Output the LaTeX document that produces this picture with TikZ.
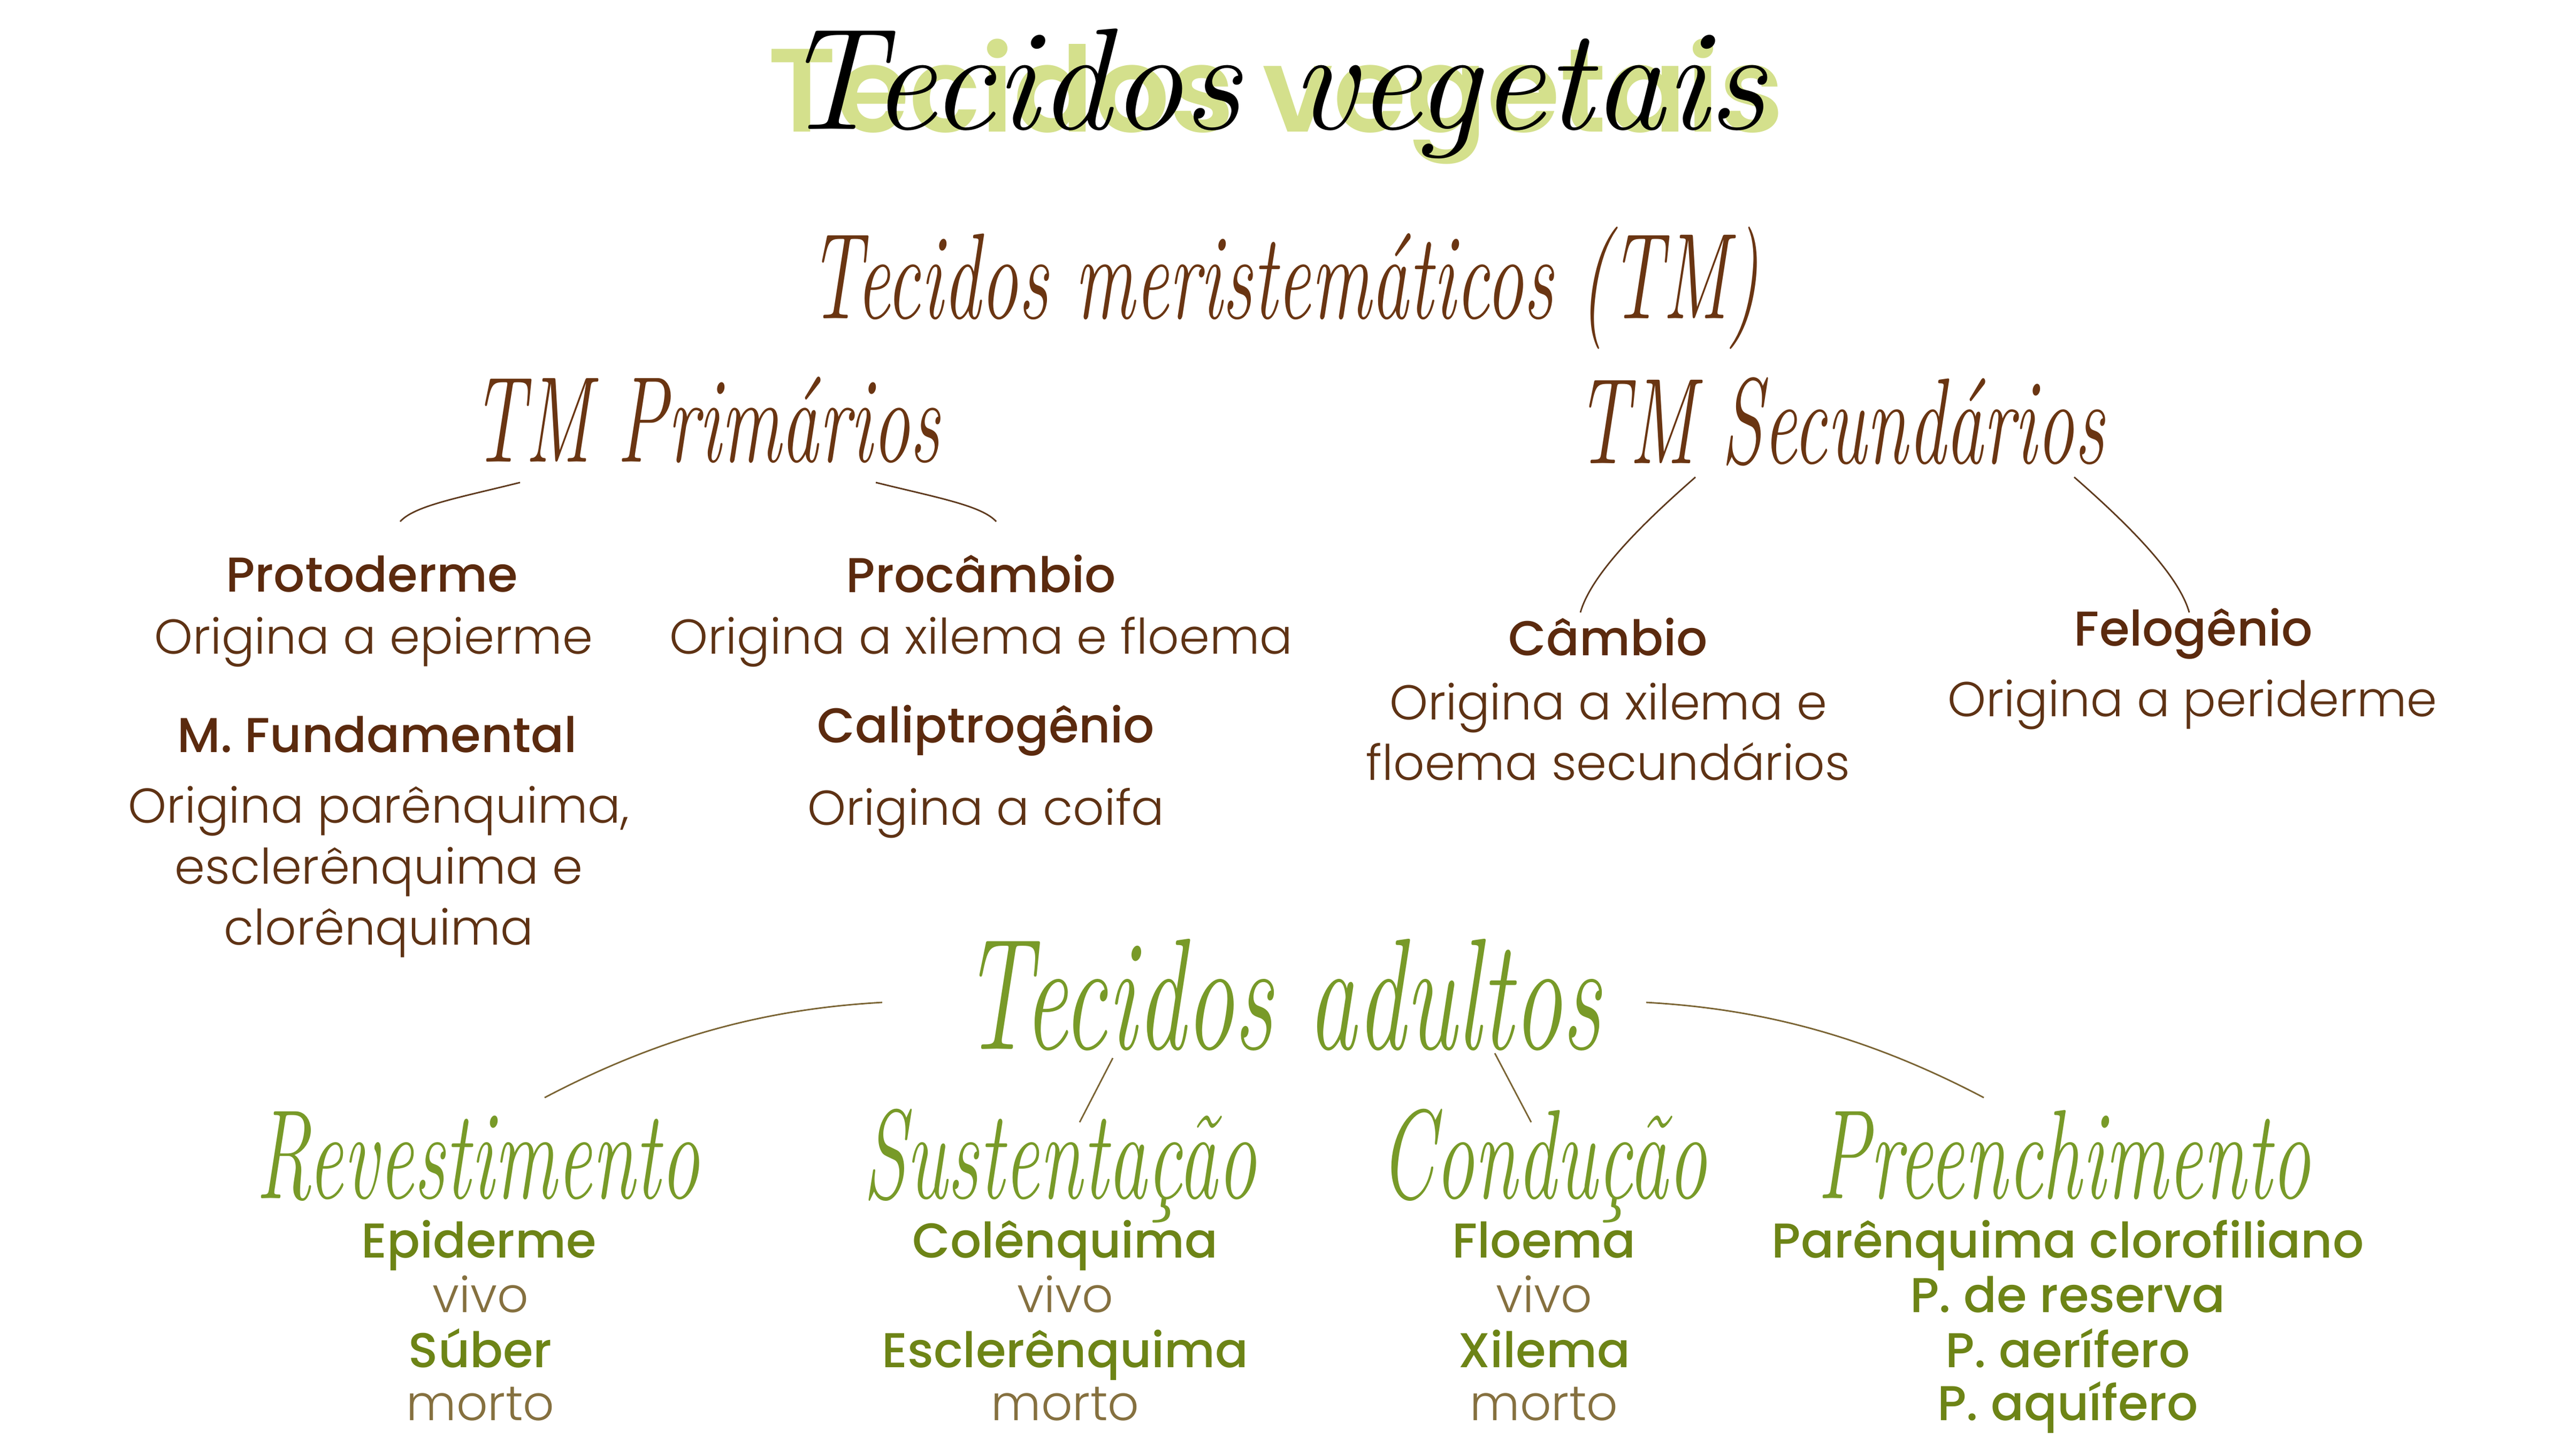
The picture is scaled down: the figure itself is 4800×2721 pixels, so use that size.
\documentclass[tikz,border=0pt]{standalone}
\usepackage{graphicx}
\usepackage{fontspec}
\setmainfont{Poppins}
\newfontfamily\lightf{Poppins Light}
\newfontfamily\medf{Poppins Medium}
\newfontfamily\semif{Poppins SemiBold}
\newfontfamily\lmfam{Latin Modern Roman}
\definecolor{brownD}{HTML}{5B2A0E}
\definecolor{brownB}{HTML}{5E3214}
\definecolor{brownS}{HTML}{6A3512}
\definecolor{greenH}{HTML}{6D8416}
\definecolor{greenS}{HTML}{789A28}
\definecolor{vivoC}{HTML}{85703F}
\definecolor{titleG}{HTML}{D4E08C}
\definecolor{lineB}{HTML}{5E3A1E}
\definecolor{lineG}{HTML}{7A6434}
\tikzset{
  hd/.style={font=\medf\fontsize{26}{31}\selectfont, text=brownD, inner sep=0pt},
  bd/.style={font=\lightf\fontsize{26}{32.4}\selectfont, text=brownB, align=center, inner sep=0pt},
  ghd/.style={font=\medf\fontsize{26}{31}\selectfont, text=greenH, inner sep=0pt, anchor=base},
  gbd/.style={font=\lightf\fontsize{26}{31}\selectfont, text=vivoC, inner sep=0pt, anchor=base},
  scrfont/.style={font=\lmfam\itshape\fontsize{#1}{#1}\selectfont, inner sep=0pt},
  conn/.style={draw=lineB, line width=0.8pt},
  conng/.style={draw=lineG, line width=0.8pt},
}
\newcommand{\tallscr}[1]{\scalebox{0.8}[1.3]{#1}}
\begin{document}
\begin{tikzpicture}[x=0.01cm,y=-0.01cm]
\useasboundingbox (0,0) rectangle (4800,2721);
\fill[white] (0,0) rectangle (4800,2721);

% title
\node[font=\semif\fontsize{63}{63}\selectfont, text=titleG, inner sep=0pt] (tg) at (2385,190) {Tecidos vegetais};
\node[scrfont=77, text=black] (tb) at (2380,175) {Tecidos vegetais};

% meristematic
\node[scrfont=50, text=brownS] (tm) at (2400,538) {\tallscr{Tecidos meristemáticos (TM)}};
\node[scrfont=50, text=brownS] (tmp) at (1320,785) {\tallscr{TM Primários}};
\node[scrfont=50, text=brownS] (tms) at (3440,788) {\tallscr{TM Secundários}};

\coordinate (p1a) at (972,902);  \coordinate (p1b) at (748,975);
\coordinate (p2a) at (1637,902); \coordinate (p2b) at (1862,975);
\coordinate (s1a) at (3169,892); \coordinate (s1b) at (2954,1145);
\coordinate (s2a) at (3877,892); \coordinate (s2b) at (4092,1145);
\draw[conn] (p1a) .. controls (860,930) and (775,945) .. (p1b);
\draw[conn] (p2a) .. controls (1750,930) and (1835,945) .. (p2b);
\draw[conn] (s1a) .. controls (3080,970) and (2975,1070) .. (s1b);
\draw[conn] (s2a) .. controls (3966,970) and (4071,1070) .. (s2b);

\node[hd] (proto) at (695,1073) {Protoderme};
\node[bd] (protob) at (698,1200) {Origina a epierme};
\node[hd] (proc) at (1834,1073) {Procâmbio};
\node[bd] (procb) at (1834,1200) {Origina a xilema e floema};
\node[hd] (mf) at (705,1373) {M. Fundamental};
\node[bd] (mfb) at (708,1630) {Origina parênquima,\\esclerênquima e\\clorênquima};
\node[hd] (cal) at (1843,1366) {Caliptrogênio};
\node[bd] (calb) at (1843,1520) {Origina a coifa};
\node[hd] (cam) at (3006,1191) {Câmbio};
\node[bd] (camb) at (3006,1368) {Origina a xilema e\\floema secundários};
\node[hd] (fel) at (4100,1185) {Felogênio};
\node[bd] (felb) at (4098,1317) {Origina a periderme};

% adult
\node[scrfont=65, text=greenS] (ad) at (2396,1860) {\tallscr{Tecidos adultos}};
\coordinate (a1a) at (1649,1874); \coordinate (a1b) at (1018,2052);
\coordinate (a2a) at (2080,1978); \coordinate (a2b) at (2018,2098);
\coordinate (a3a) at (2794,1969); \coordinate (a3b) at (2862,2098);
\coordinate (a4a) at (3077,1874); \coordinate (a4b) at (3708,2052);
\draw[conng] (a1a) .. controls (1450,1885) and (1250,1930) .. (a1b);
\draw[conng] (a2a) -- (a2b);
\draw[conng] (a3a) -- (a3b);
\draw[conng] (a4a) .. controls (3276,1885) and (3476,1930) .. (a4b);

\node[scrfont=52, text=greenS, anchor=base] (rev) at (893,2240) {\tallscr{Revestimento}};
\node[scrfont=52, text=greenS, anchor=base] (sus) at (1981,2240) {\tallscr{Sustentação}};
\node[scrfont=52, text=greenS, anchor=base] (con) at (2885,2240) {\tallscr{Condução}};
\node[scrfont=52, text=greenS, anchor=base] (pre) at (3858,2240) {\tallscr{Preenchimento}};

\node[ghd] (epi) at (895,2351) {Epiderme};
\node[gbd] (epiv) at (898,2453) {vivo};
\node[ghd] (sub) at (898,2556) {Súber};
\node[gbd] (subm) at (898,2655) {morto};

\node[ghd] (col) at (1991,2351) {Colênquima};
\node[gbd] (colv) at (1991,2453) {vivo};
\node[ghd] (esc) at (1991,2556) {Esclerênquima};
\node[gbd] (escm) at (1991,2655) {morto};

\node[ghd] (flo) at (2886,2351) {Floema};
\node[gbd] (flov) at (2886,2453) {vivo};
\node[ghd] (xil) at (2886,2556) {Xilema};
\node[gbd] (xilm) at (2886,2655) {morto};

\node[ghd] (par) at (3865,2351) {Parênquima clorofiliano};
\node[ghd] (pres) at (3865,2453) {P. de reserva};
\node[ghd] (paer) at (3865,2556) {P. aerífero};
\node[ghd] (paq) at (3865,2655) {P. aquífero};
\end{tikzpicture}
\end{document}
